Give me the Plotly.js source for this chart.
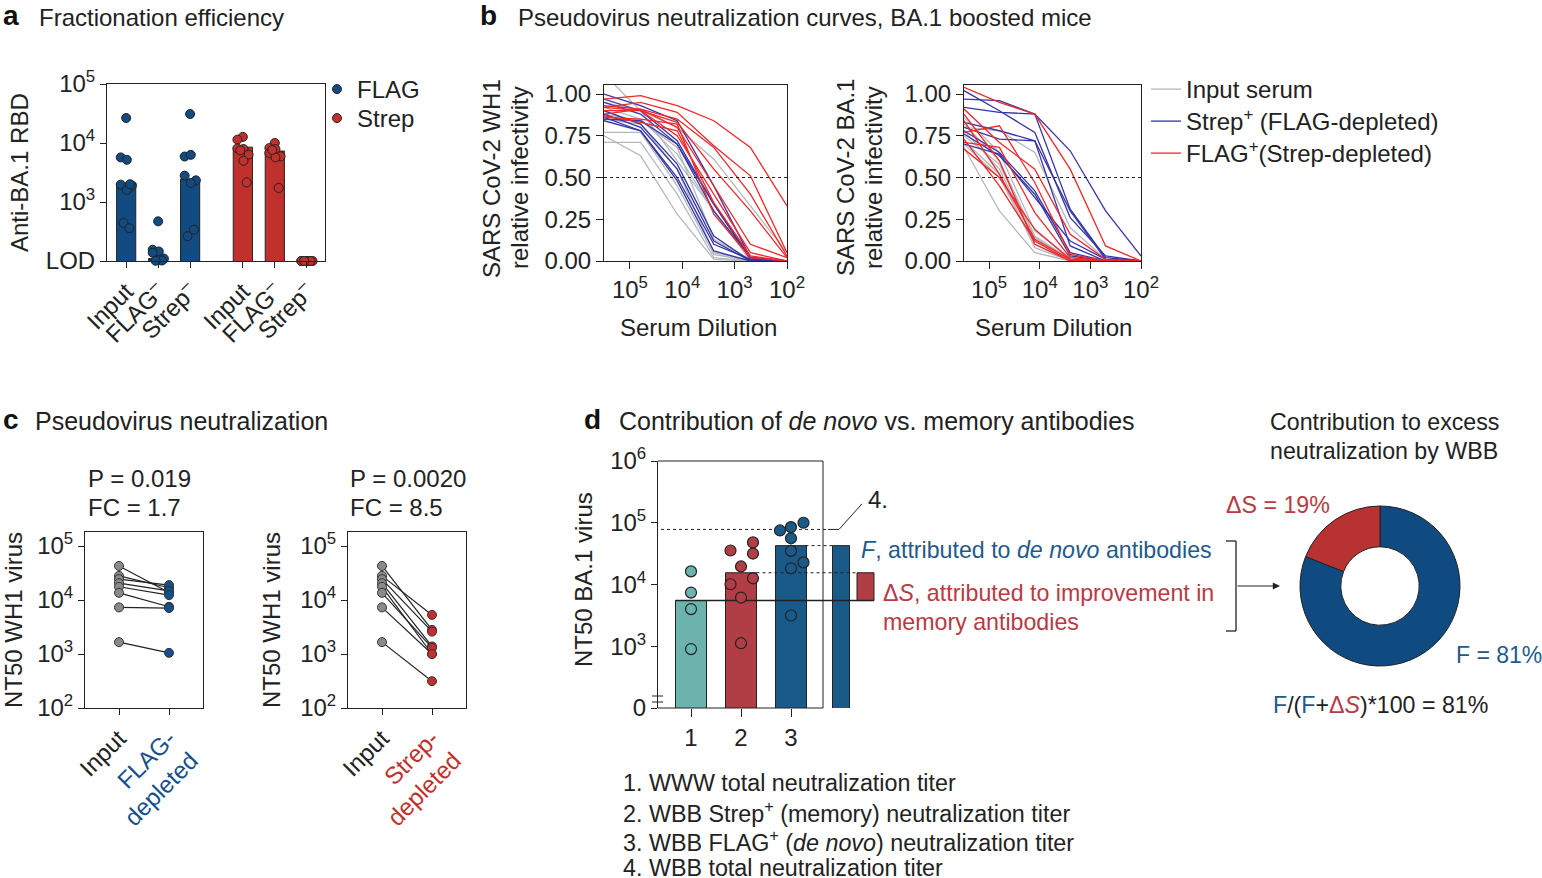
<!DOCTYPE html>
<html><head><meta charset="utf-8">
<script src="https://cdn.plot.ly/plotly-3.0.1.min.js"></script>
<style>html,body{margin:0;padding:0;background:#fff}#chart{width:1542px;height:878px}</style>
</head><body><div id="chart"></div>
<script>
// ---------- DATA ----------
// Panel a: Fractionation efficiency (anti-BA.1 RBD)
const aCats = ['Input', 'FLAG<sup>–</sup>', 'Strep<sup>–</sup>'];
const aFlagBars = [2090, 110, 2450];
const aStrepBars = [8500, 7300, 100];
const aFlagInput = [26500, 5700, 5200, 1970, 1900, 1600, 2000, 440, 360];
const aFlagFlagDep = [470, 155, 145, 138, 110, 105, 102, 101];
const aFlagStrepDep = [31000, 5900, 6300, 2800, 2330, 2100, 340, 263];
const aStrepInput = [12700, 11400, 7900, 8100, 6350, 5000, 2150, 7500];
const aStrepFlagDep = [10000, 8200, 7900, 6770, 5940, 5700, 1730, 7600];
const aStrepStrepDep = [100, 100, 100, 100, 100, 100, 100, 100];

// Panel b: neutralization curves
const dilutions = [312500, 62500, 12500, 2500, 500, 100];
const wh1Input = [
  [1.12, 0.90, 0.60, 0.30, 0.00, 0.00],
  [0.95, 0.90, 0.80, 0.61, 0.33, 0.05],
  [0.92, 0.85, 0.64, 0.30, 0.02, 0.00],
  [0.88, 0.84, 0.68, 0.13, 0.01, 0.00],
  [0.85, 0.82, 0.55, 0.05, 0.00, 0.00],
  [0.77, 0.77, 0.45, 0.04, 0.00, 0.00],
  [0.75, 0.63, 0.28, 0.01, 0.00, 0.00],
  [0.71, 0.71, 0.40, 0.02, 0.00, 0.00]];
const wh1Strep = [
  [1.00, 0.93, 0.84, 0.45, 0.02, 0.00],
  [0.97, 0.90, 0.72, 0.34, 0.01, 0.00],
  [0.95, 0.88, 0.70, 0.30, 0.02, 0.00],
  [0.90, 0.82, 0.58, 0.15, 0.00, 0.00],
  [0.88, 0.80, 0.55, 0.12, 0.00, 0.00],
  [0.86, 0.78, 0.50, 0.10, 0.01, 0.00],
  [0.85, 0.84, 0.70, 0.34, 0.02, 0.00],
  [0.84, 0.78, 0.48, 0.06, 0.00, 0.00]];
const wh1Flag = [
  [0.97, 0.99, 0.93, 0.84, 0.68, 0.33],
  [0.92, 0.95, 0.89, 0.69, 0.51, 0.05],
  [0.93, 0.91, 0.85, 0.68, 0.40, 0.03],
  [0.90, 0.90, 0.83, 0.55, 0.30, 0.02],
  [0.88, 0.91, 0.80, 0.45, 0.10, 0.02],
  [0.87, 0.83, 0.78, 0.35, 0.03, 0.00],
  [0.86, 0.85, 0.82, 0.28, 0.02, 0.00],
  [0.92, 0.90, 0.75, 0.40, 0.05, 0.00]];
const ba1Input = [
  [0.80, 0.78, 0.65, 0.20, 0.01, 0.00],
  [0.82, 0.60, 0.15, 0.01, 0.00, 0.00],
  [0.78, 0.55, 0.12, 0.00, 0.00, 0.00],
  [0.70, 0.50, 0.10, 0.00, 0.00, 0.00],
  [0.68, 0.30, 0.05, 0.00, 0.00, 0.00],
  [0.75, 0.58, 0.14, 0.01, 0.00, 0.00],
  [0.72, 0.52, 0.08, 0.00, 0.00, 0.00],
  [0.86, 0.65, 0.18, 0.02, 0.00, 0.00]];
const ba1Strep = [
  [1.02, 0.90, 0.77, 0.26, 0.03, 0.00],
  [0.97, 0.96, 0.88, 0.66, 0.30, 0.03],
  [0.92, 0.89, 0.88, 0.31, 0.02, 0.00],
  [0.83, 0.78, 0.72, 0.30, 0.01, 0.00],
  [0.80, 0.73, 0.72, 0.09, 0.00, 0.00],
  [0.78, 0.65, 0.42, 0.05, 0.00, 0.00],
  [0.70, 0.64, 0.38, 0.12, 0.01, 0.00],
  [0.76, 0.63, 0.40, 0.03, 0.00, 0.00]];
const ba1Flag = [
  [1.04, 0.95, 0.88, 0.55, 0.09, 0.00],
  [0.91, 0.71, 0.55, 0.16, 0.01, 0.00],
  [0.77, 0.81, 0.47, 0.04, 0.00, 0.00],
  [0.71, 0.68, 0.29, 0.02, 0.00, 0.00],
  [0.67, 0.50, 0.19, 0.01, 0.00, 0.00],
  [0.84, 0.52, 0.13, 0.01, 0.00, 0.00],
  [0.88, 0.60, 0.10, 0.00, 0.00, 0.00],
  [0.73, 0.45, 0.12, 0.00, 0.00, 0.00]];

// Panel c: NT50 WH1 paired
const cInput = [42800, 28000, 24400, 20500, 17600, 13600, 7300, 1660];
const cFlagDep = [13800, 16900, 18900, 14800, 12300, 7500, 7100, 1050];
const cStrepDep = [2800, 5300, 2600, 1380, 1000, 1300, 1000, 314];

// Panel d: NT50 BA.1
const dLabels = ['1', '2', '3'];
const dBars = [5500, 15500, 42600];
const dWww = [16300, 7400, 4000, 900];
const dStrep = [48000, 35500, 31700, 19600, 12600, 10100, 6150, 1120];
const dFlag = [100000, 85000, 75000, 56000, 35000, 22800, 18300, 3150];
const dWbbTotal = 78000;
const pieLabels = ['F', 'ΔS'];
const pieValues = [81, 19];

// ---------- LAYOUT HELPERS ----------
const W = 1542, H = 878;
const px = x => x / W, py = y => 1 - y / H;
const FONT = 'Liberation Sans, Arial, Helvetica, sans-serif';
const FS = 24;
const INK = '#222';
const BLUE_A = '#114b82', RED_A = '#c0302c';
const GRAY_L = '#b4b8bd', BLUE_L = '#3535a8', RED_L = '#f0282a';
const TEAL_D = '#6cb3ae', RED_D = '#b13d45', BLUE_D = '#1a5a89';
const BLUE_T = '#1f5a8c', RED_T = '#b83a44';

const ax = o => Object.assign({showline: true, linecolor: INK, linewidth: 1, ticks: 'outside', ticklen: 6,
  tickwidth: 1, tickcolor: INK, showgrid: false, zeroline: false, fixedrange: true,
  tickfont: {size: FS, color: INK, family: FONT}}, o);
const sup = n => '10<sup>' + n + '</sup>';

const traces = [];
const jitA = [0, -0.17, 0.02, -0.17, 0.18, 0.02, 0.12, -0.08, 0.1];

// Panel a bars
const aPosFlag = [0, 1, 2], aPosStrep = [3.65, 4.65, 5.65];
traces.push({type: 'bar', x: aPosFlag, y: aFlagBars, width: 0.6, marker: {color: BLUE_A, line: {color: INK, width: 1}},
  xaxis: 'x', yaxis: 'y', showlegend: false, hoverinfo: 'skip'});
traces.push({type: 'bar', x: aPosStrep, y: aStrepBars, width: 0.6, marker: {color: RED_A, line: {color: INK, width: 1}},
  xaxis: 'x', yaxis: 'y', showlegend: false, hoverinfo: 'skip'});
function groupPts(pos, groups) {
  const xs = [], ys = [];
  groups.forEach((g, gi) => g.forEach((v, i) => { xs.push(pos[gi] + jitA[i % jitA.length]); ys.push(v); }));
  return {xs, ys};
}
const aF = groupPts(aPosFlag, [aFlagInput, aFlagFlagDep, aFlagStrepDep]);
const aS = groupPts(aPosStrep, [aStrepInput, aStrepFlagDep, aStrepStrepDep]);
traces.push({type: 'scatter', mode: 'markers', x: aF.xs, y: aF.ys, name: 'FLAG', legend: 'legend4',
  marker: {size: 9, color: BLUE_A, line: {color: INK, width: 1}}, xaxis: 'x', yaxis: 'y', cliponaxis: false});
traces.push({type: 'scatter', mode: 'markers', x: aS.xs, y: aS.ys, name: 'Strep', legend: 'legend5',
  marker: {size: 9, color: RED_A, line: {color: INK, width: 1}}, xaxis: 'x', yaxis: 'y', cliponaxis: false});

// Panel b curves
function curves(sets, xa, ya) {
  const spec = [[sets[0], GRAY_L, 'Input serum', 'legend'], [sets[1], BLUE_L, 'Strep<sup>+</sup> (FLAG-depleted)', 'legend2'],
                [sets[2], RED_L, 'FLAG<sup>+</sup>(Strep-depleted)', 'legend3']];
  spec.forEach(([rows, col, nm, lg]) => rows.forEach((r, i) => traces.push({type: 'scatter', mode: 'lines', x: dilutions, y: r,
    line: {color: col, width: 1.3}, name: nm, legend: lg, showlegend: xa === 'x2' && i === 0, xaxis: xa, yaxis: ya, hoverinfo: 'skip'})));
  traces.push({type: 'scatter', mode: 'lines', x: [dilutions[0], dilutions[dilutions.length - 1]], y: [0.5, 0.5],
    line: {color: INK, width: 1, dash: 'dot'}, showlegend: false, xaxis: xa, yaxis: ya, hoverinfo: 'skip'});
}
curves([wh1Input, wh1Strep, wh1Flag], 'x2', 'y2');
curves([ba1Input, ba1Strep, ba1Flag], 'x3', 'y3');

// Panel c paired
function pairs(dep, col, xa, ya) {
  cInput.forEach((v, i) => traces.push({type: 'scatter', mode: 'lines+markers', x: [0, 1], y: [v, dep[i]],
    line: {color: INK, width: 1.2}, marker: {size: 9, color: ['#8a8a8a', col], line: {color: '#333', width: 1}},
    showlegend: false, xaxis: xa, yaxis: ya, cliponaxis: false, hoverinfo: 'skip'}));
}
pairs(cFlagDep, '#15508a', 'x4', 'y4');
pairs(cStrepDep, '#c0302c', 'x5', 'y5');

// Panel d
traces.push({type: 'bar', x: [1, 2, 3], y: dBars, width: 0.62, marker: {color: [TEAL_D, RED_D, BLUE_D], line: {color: INK, width: 1}},
  xaxis: 'x6', yaxis: 'y6', showlegend: false, hoverinfo: 'skip'});
// F bar (4) and ΔS floating bar
traces.push({type: 'bar', x: [4.0], y: [dBars[2]], width: 0.34, marker: {color: BLUE_D, line: {color: INK, width: 1}},
  xaxis: 'x6', yaxis: 'y6', showlegend: false, hoverinfo: 'skip'});
traces.push({type: 'bar', x: [4.49], y: [dBars[1] - dBars[0]], base: [dBars[0]], width: 0.34,
  marker: {color: RED_D, line: {color: INK, width: 1}}, xaxis: 'x6', yaxis: 'y6', showlegend: false, hoverinfo: 'skip'});
// reference lines
const hl = (x0, x1, y, dash, w) => traces.push({type: 'scatter', mode: 'lines', x: [x0, x1], y: [y, y],
  line: {color: INK, width: w || 1, dash: dash}, xaxis: 'x6', yaxis: 'y6', showlegend: false, hoverinfo: 'skip', cliponaxis: false});
hl(0.4, 3.74, dWbbTotal, 'dot', 1);
hl(3.29, 3.84, dBars[2], 'dot', 1);
hl(2.31, 4.32, dBars[1], 'dot', 1);
hl(0.69, 4.66, dBars[0], 'solid', 1.5);
traces.push({type: 'scatter', mode: 'lines', x: [3.74, 3.96, 4.42], y: [dWbbTotal, dWbbTotal, dWbbTotal * 2.6],
  line: {color: INK, width: 1}, xaxis: 'x6', yaxis: 'y6', showlegend: false, hoverinfo: 'skip', cliponaxis: false});
const jit2 = [0.24, -0.21, 0.24, 0, 0.24, -0.21, 0, 0];
const jit3 = [0.25, 0, -0.22, 0, 0, 0.25, 0, 0];
const dpts = (vals, cx, jit, col) => traces.push({type: 'scatter', mode: 'markers', x: vals.map((v, i) => cx + (jit ? jit[i] : 0)), y: vals,
  marker: {size: 11, color: col, line: {color: INK, width: 1.2}}, xaxis: 'x6', yaxis: 'y6', showlegend: false, hoverinfo: 'skip', cliponaxis: false});
dpts(dWww, 1, null, TEAL_D);
dpts(dStrep, 2, jit2, RED_D);
dpts(dFlag, 3, jit3, BLUE_D);

// Donut
traces.push({type: 'pie', labels: pieLabels, values: pieValues, hole: 0.49, sort: false, direction: 'clockwise', rotation: 0,
  marker: {colors: ['#0f4a80', '#b83232'], line: {color: INK, width: 1}}, textinfo: 'none', showlegend: false, hoverinfo: 'skip',
  domain: {x: [px(1300), px(1460)], y: [py(666), py(506)]}});

// ---------- ANNOTATIONS ----------
const T = (x, y, text, o) => Object.assign({xref: 'paper', yref: 'paper', x: px(x), y: py(y), text, showarrow: false,
  xanchor: 'left', yanchor: 'middle', font: {size: FS, color: INK, family: FONT}}, o || {});
const bold = {font: {size: 28, color: '#111', family: FONT, weight: 'bold'}};
const rot = {textangle: -90, xanchor: 'center', yanchor: 'middle'};
const fnt = (s, c) => ({font: {size: s, color: c || INK, family: FONT}});
const ann = [
  T(1, 16, '<b>a</b>', bold), T(37, 17, 'Fractionation efficiency'),
  T(478, 16, '<b>b</b>', bold), T(516, 17, 'Pseudovirus neutralization curves, BA.1 boosted mice'),
  T(1, 420, '<b>c</b>', bold), T(33, 421, 'Pseudovirus neutralization', fnt(25)),
  T(582, 420, '<b>d</b>', bold), T(617, 421, 'Contribution of <i>de novo</i> vs. memory antibodies', fnt(25)),
  T(20, 173, 'Anti-BA.1 RBD', rot),
  T(491, 178, 'SARS CoV-2 WH1', rot), T(519, 178, 'relative infectivity', rot),
  T(845, 178, 'SARS CoV-2 BA.1', rot), T(873, 178, 'relative infectivity', rot),
  T(698, 327, 'Serum Dilution', {xanchor: 'center'}),
  T(1053, 327, 'Serum Dilution', {xanchor: 'center'}),
  T(86, 479, 'P = 0.019'), T(86, 507, 'FC = 1.7'),
  T(348, 479, 'P = 0.0020'), T(348, 507, 'FC = 8.5'),
  T(13, 620, 'NT50 WH1 virus', rot),
  T(271, 620, 'NT50 WH1 virus', rot),
  T(583, 580, 'NT50 BA.1 virus', rot),
  T(866, 499, '4.'),
  T(859, 550, '<i>F</i>, attributed to <i>de novo</i> antibodies', fnt(23.2, BLUE_T)),
  T(881, 593, 'Δ<i>S</i>, attributed to improvement in', fnt(23.2, RED_T)),
  T(881, 622, 'memory antibodies', fnt(23.2, RED_T)),
  T(1268, 422, 'Contribution to excess', fnt(23.2)), T(1268, 451, 'neutralization by WBB', fnt(23.2)),
  T(1224, 505, 'ΔS = 19%', fnt(23.2, RED_T)),
  T(1454, 655, 'F = 81%', fnt(23, BLUE_T)),
  T(1380, 705, '<span style="color:' + BLUE_T + '">F</span>/(<span style="color:' + BLUE_T + '">F</span>+<span style="color:' + RED_T + '">Δ<i>S</i></span>)*100 = 81%', Object.assign({xanchor: 'center'}, fnt(23.2))),
  T(621, 783, '1. WWW total neutralization titer', fnt(23.3)),
  T(621, 812, '2. WBB Strep<sup>+</sup> (memory) neutralization titer', fnt(23.3)),
  T(621, 841, '3. WBB FLAG<sup>+</sup> (<i>de novo</i>) neutralization titer', fnt(23.3)),
  T(621, 868, '4. WBB total neutralization titer', fnt(23.3)),
  // arrow from bracket to donut
  {xref: 'paper', yref: 'paper', x: px(1280), y: py(586), ax: -44, ay: 0, text: '', showarrow: true,
   arrowhead: 2, arrowsize: 1.2, arrowwidth: 1.2, arrowcolor: INK}
];

// ---------- SHAPES ----------
const L = (x0, y0, x1, y1, w) => ({type: 'line', xref: 'paper', yref: 'paper', x0: px(x0), y0: py(y0), x1: px(x1), y1: py(y1),
  line: {color: INK, width: w || 1}});
const shapes = [
  // panel d frame
  L(658, 461, 823, 461), L(823, 461, 823, 708), L(658, 708, 823, 708),
  // bracket
  L(1226, 541, 1236, 541, 1.3), L(1236, 541, 1236, 631, 1.3), L(1226, 631, 1236, 631, 1.3),
  // axis break stripe
  {type: 'rect', xref: 'paper', yref: 'y6', x0: px(655), x1: px(852), y0: 2.11, y1: 2.18, fillcolor: '#fff', line: {width: 0}, layer: 'above'},
  L(652, 696, 663, 696), L(652, 702, 663, 702)
];

const lg = (x, yc) => ({x: px(x), y: py(yc - 23), xanchor: 'left', yanchor: 'top', font: {size: FS, color: INK, family: FONT},
  bgcolor: 'rgba(0,0,0,0)', itemwidth: 30});
const layout = {
  width: W, height: H, margin: {l: 0, r: 0, t: 0, b: 0}, paper_bgcolor: '#fff', plot_bgcolor: 'rgba(0,0,0,0)',
  font: {family: FONT, size: FS, color: INK}, hovermode: false, barmode: 'overlay',
  xaxis: ax({domain: [px(107), px(325)], range: [-0.6, 6.22], tickvals: aPosFlag.concat(aPosStrep),
    ticktext: aCats.concat(aCats), tickangle: -45, mirror: true, anchor: 'y'}),
  yaxis: ax({domain: [py(261), py(84)], type: 'log', range: [2, 5], tickvals: [100, 1000, 10000, 100000],
    ticktext: ['LOD', sup(3), sup(4), sup(5)], mirror: true, anchor: 'x'}),
  xaxis2: ax({domain: [px(604), px(787)], type: 'log', range: [Math.log10(dilutions[0]), 2], tickvals: [1e5, 1e4, 1e3, 1e2],
    ticktext: [sup(5), sup(4), sup(3), sup(2)], mirror: true, anchor: 'y2', ticklen: 7}),
  yaxis2: ax({domain: [py(261), py(85)], range: [0, 1.054], tickvals: [0, 0.25, 0.5, 0.75, 1], tickformat: '.2f', mirror: true, anchor: 'x2', ticklen: 7}),
  xaxis3: ax({domain: [px(964), px(1141)], type: 'log', range: [Math.log10(dilutions[0]), 2], tickvals: [1e5, 1e4, 1e3, 1e2],
    ticktext: [sup(5), sup(4), sup(3), sup(2)], mirror: true, anchor: 'y3', ticklen: 7}),
  yaxis3: ax({domain: [py(261), py(85)], range: [0, 1.054], tickvals: [0, 0.25, 0.5, 0.75, 1], tickformat: '.2f', mirror: true, anchor: 'x3', ticklen: 7}),
  xaxis4: ax({domain: [px(85), px(203)], range: [-0.68, 1.68], tickvals: [0, 1], tickangle: -45, mirror: true, anchor: 'y4',
    ticktext: ['Input', '<span style="color:#15508a">FLAG-<br>depleted</span>']}),
  yaxis4: ax({domain: [py(708), py(532)], type: 'log', range: [2, 5.26], tickvals: [100, 1000, 10000, 100000],
    ticktext: [sup(2), sup(3), sup(4), sup(5)], mirror: true, anchor: 'x4'}),
  xaxis5: ax({domain: [px(348), px(466)], range: [-0.68, 1.68], tickvals: [0, 1], tickangle: -45, mirror: true, anchor: 'y5',
    ticktext: ['Input', '<span style="color:#c0302c">Strep-<br>depleted</span>']}),
  yaxis5: ax({domain: [py(708), py(532)], type: 'log', range: [2, 5.26], tickvals: [100, 1000, 10000, 100000],
    ticktext: [sup(2), sup(3), sup(4), sup(5)], mirror: true, anchor: 'x5'}),
  xaxis6: ax({domain: [px(658), px(880)], range: [0.34, 4.78], tickvals: [1, 2, 3], ticktext: dLabels, showline: false, anchor: 'y6', ticklen: 8}),
  yaxis6: ax({domain: [py(708), py(461)], type: 'log', range: [2, 6], tickvals: [100, 1000, 10000, 100000, 1000000],
    ticktext: ['0', sup(3), sup(4), sup(5), sup(6)], anchor: 'x6'}),
  legend: lg(1146, 90), legend2: lg(1146, 122), legend3: lg(1146, 154),
  legend4: lg(317, 90), legend5: lg(317, 119),
  annotations: ann, shapes: shapes
};
Plotly.newPlot('chart', traces, layout, {displayModeBar: false, staticPlot: true});
</script></body></html>
